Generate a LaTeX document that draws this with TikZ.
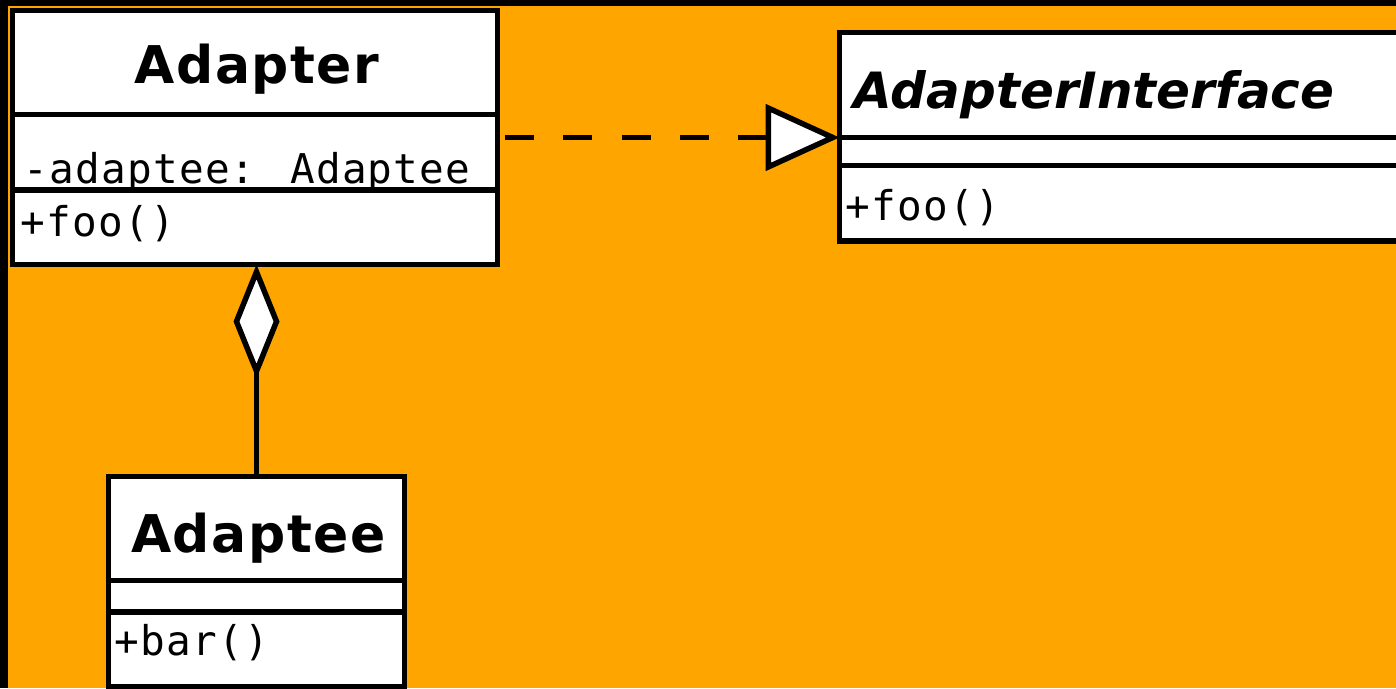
\documentclass[tikz,border=0pt]{standalone}
\usepackage{fontspec}
\usepackage{xcolor}
\usepackage{tikz}
\usetikzlibrary{arrows.meta, positioning}
\newfontfamily\umlsans{DejaVu Sans}
\newfontfamily\umlsanswide{DejaVu Sans}[LetterSpace=3]
\newfontfamily\umlmono{DejaVu Sans Mono}[LetterSpace=3]
\definecolor{bgorange}{RGB}{255, 165, 0}

\begin{document}
\begin{tikzpicture}[
    x=1pt, y=-1pt,
    node distance=0pt,
    box/.style={draw, fill=white, line width=5.5pt, outer sep=0pt, inner sep=0pt},
    head/.style={box, minimum height=104pt},
    title/.style={font=\umlsanswide\bfseries\fontsize{52}{58}\selectfont, inner sep=0pt, anchor=base},
    member/.style={font=\umlmono\fontsize{41}{46}\selectfont, inner sep=0pt, anchor=base west},
    realize/.style={line width=5.5pt, dash pattern=on 29pt off 29.3pt, dash phase=50.8pt,
        -{Triangle[length=74pt, width=66pt, fill=white]}},
    aggregate/.style={line width=5.5pt, -{Diamond[length=114pt, width=46pt, fill=white]}}
]
    \useasboundingbox (0,0) rectangle (1396,688);
    % Background
    \fill[black] (0,0) rectangle (1396,688);
    \fill[bgorange] (8,5.5) rectangle (1396,688);

    % Adapter
    \node[head, minimum width=485pt, anchor=north west] (adapter) at (12.5,10.5) {};
    \node[box, minimum width=485pt, minimum height=75.5pt, below=of adapter] (adapter-attr) {};
    \node[box, minimum width=485pt, minimum height=74.5pt, below=of adapter-attr] (adapter-ops) {};
    \node[title] (adapter-name) at ([xshift=2pt, yshift=-20.5pt]adapter.center) {Adapter};
    \node[member] (adapter-field) at ([xshift=11pt, yshift=7pt]adapter-attr.south west) {-adaptee: Adaptee};
    \node[member] (adapter-op) at ([xshift=8pt, yshift=-46pt]adapter-ops.north west) {+foo()};

    % AdapterInterface
    \node[head, minimum width=600pt, minimum height=105pt, anchor=north west] (iface) at (839.5,32.5) {};
    \node[box, minimum width=600pt, minimum height=28pt, below=of iface] (iface-attr) {};
    \node[box, minimum width=600pt, minimum height=75.5pt, below=of iface-attr] (iface-ops) {};
    \node[title, anchor=base west, font=\umlsans\bfseries\itshape\fontsize{50}{56}\selectfont]
        (iface-name) at ([xshift=14pt, yshift=-23pt]iface.west) {AdapterInterface};
    \node[member] (iface-op) at ([xshift=6pt, yshift=-54.5pt]iface-ops.north west) {+foo()};

    % Adaptee
    \node[head, minimum width=296pt, anchor=north west] (adaptee) at (108.5,476.5) {};
    \node[box, minimum width=296pt, minimum height=31.5pt, below=of adaptee] (adaptee-attr) {};
    \node[box, minimum width=296pt, minimum height=75pt, below=of adaptee-attr] (adaptee-ops) {};
    \node[title] (adaptee-name) at ([xshift=2pt, yshift=-23.5pt]adaptee.center) {Adaptee};
    \node[member] (adaptee-op) at ([xshift=6pt, yshift=-43pt]adaptee-ops.north west) {+bar()};

    % Relationships
    \draw[realize] (adapter-attr.east |- iface.south west) -- (iface.south west);
    \draw[aggregate] (adaptee.north) -- (adaptee.north |- adapter-ops.south);
\end{tikzpicture}
\end{document}
